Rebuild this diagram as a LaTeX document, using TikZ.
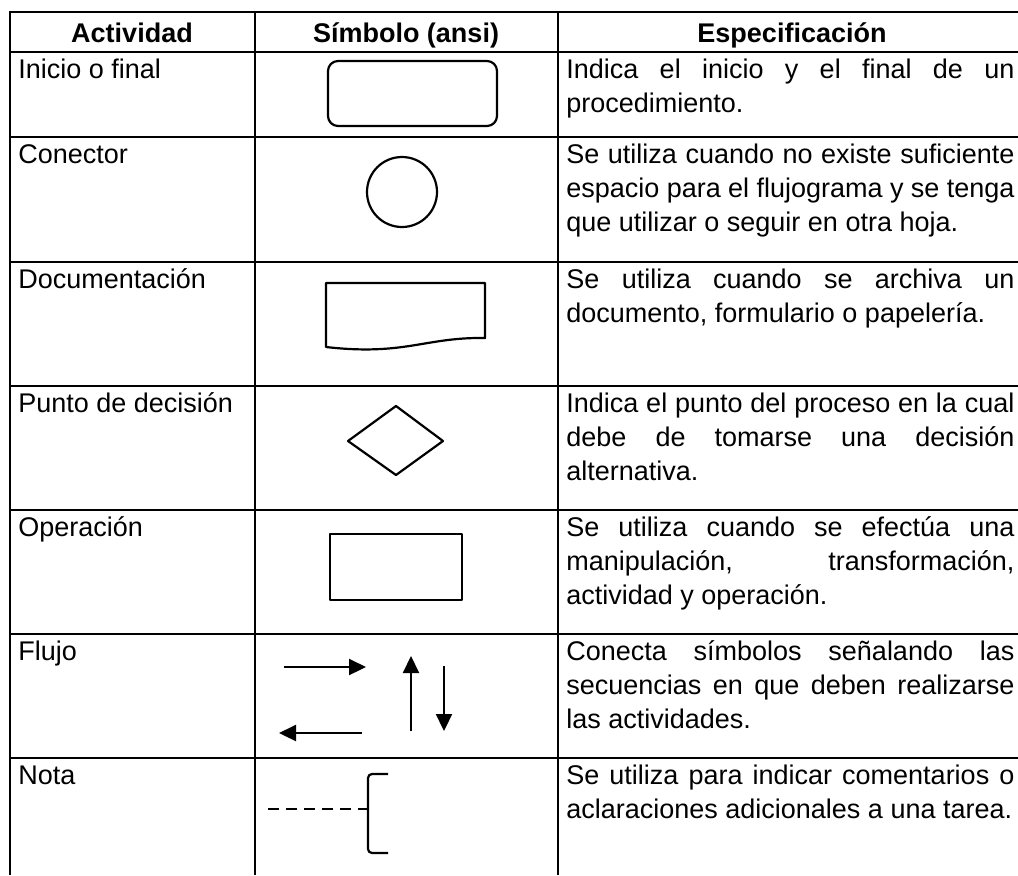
\documentclass[tikz,border=0pt]{standalone}
\usepackage{fontspec}
\setmainfont{Liberation Sans}
\usetikzlibrary{arrows.meta}
\newcommand{\spec}[1]{\parbox[t]{224pt}{\tolerance=10000\hyphenpenalty=10000 #1}}
\tikzstyle{head} = [anchor=base, font=\fontsize{13.5}{17}\selectfont\bfseries, inner sep=0pt]
\tikzstyle{cell} = [anchor=base west, font=\fontsize{13.5}{17}\selectfont, inner sep=0pt]
\tikzstyle{rule} = [line width=1.1pt]
\tikzstyle{symbol} = [line width=1.1pt, line join=round]
\tikzstyle{arrow} = [line width=1.1pt, -{Triangle[length=8.5pt,width=8pt]}]

\begin{document}
\begin{tikzpicture}[x=0.5pt,y=-0.5pt]
\useasboundingbox (0,0) rectangle (1018,875);

\draw[rule] (1018,12) -- (10,12) -- (10,875);
\draw[rule] (255,12) -- (255,875);
\draw[rule] (558,12) -- (558,875);
\foreach \y in {52,137,262,386,510,634,758}
  \draw[rule] (10,\y) -- (1018,\y);

\node[head](hact) at (132,42){Actividad};
\node[head](hsim) at (406,42){Símbolo (ansi)};
\node[head](hesp) at (792,42){Especificación};

\node[cell](a1) at (18,78){Inicio o final};
\node[cell](a2) at (18,163){Conector};
\node[cell](a3) at (18,288){Documentación};
\node[cell](a4) at (18,412){Punto de decisión};
\node[cell](a5) at (18,536){Operación};
\node[cell](a6) at (18,660){Flujo};
\node[cell](a7) at (18,784){Nota};

\node[cell](e1) at (566,78){\spec{Indica el inicio y el final de un\linebreak procedimiento.}};
\node[cell](e2) at (566,163){\spec{Se utiliza cuando no existe suficiente\linebreak espacio para el flujograma y se tenga\linebreak que utilizar o seguir en otra hoja.}};
\node[cell](e3) at (566,288){\spec{Se utiliza cuando se archiva un\linebreak documento, formulario o papelería.}};
\node[cell](e4) at (566,412){\spec{Indica el punto del proceso en la cual\linebreak debe de tomarse una decisión\linebreak alternativa.}};
\node[cell](e5) at (566,536){\spec{Se utiliza cuando se efectúa una\linebreak manipulación, transformación,\linebreak actividad y operación.}};
\node[cell](e6) at (566,660){\spec{Conecta símbolos señalando las\linebreak secuencias en que deben realizarse\linebreak las actividades.}};
\node[cell](e7) at (566,784){\spec{Se utiliza para indicar comentarios o\linebreak aclaraciones adicionales a una tarea.}};

\draw[symbol, rounded corners=5pt] (328,61) rectangle (497,126);
\draw[symbol] (402,192) circle[radius=17.5pt];
\draw[symbol] (326,283) -- (485,283) -- (485,338)
  .. controls (425,337) and (405,356) .. (326,347) -- cycle;
\draw[symbol] (396,406) -- (443,441) -- (396,475) -- (348,441) -- cycle;
\draw[symbol] (330,534) rectangle (462,600);

\coordinate (r1) at (284,667);
\coordinate (r2) at (366,667);
\coordinate (l1) at (362,733);
\coordinate (l2) at (279,733);
\coordinate (u1) at (411,731);
\coordinate (u2) at (411,656);
\coordinate (d1) at (444,666);
\coordinate (d2) at (444,731);
\draw[arrow] (r1) -- (r2);
\draw[arrow] (l1) -- (l2);
\draw[arrow] (u1) -- (u2);
\draw[arrow] (d1) -- (d2);

\coordinate (n1) at (268,809);
\coordinate (n2) at (368,809);
\draw[symbol, dash pattern=on 5.5pt off 3.5pt] (n1) -- (n2);
\draw[symbol, rounded corners=2pt] (388,774) -- (368,774) -- (368,853) -- (388,853);
\end{tikzpicture}
\end{document}
